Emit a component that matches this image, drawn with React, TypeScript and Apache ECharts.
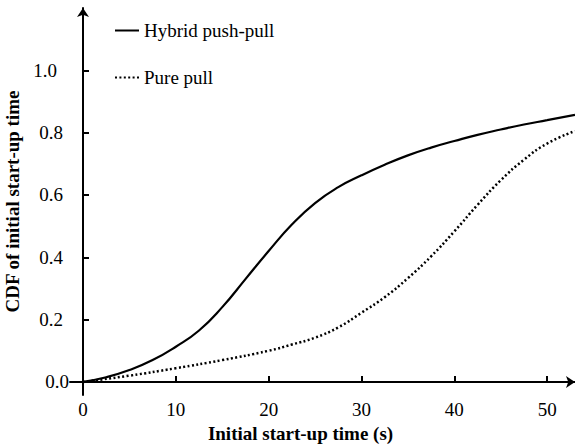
import React, { useEffect, useRef } from "react";
import * as echarts from "echarts";

const xTicks = [0, 10, 20, 30, 40, 50];
const yTicks = [0, 0.2, 0.4, 0.6, 0.8, 1.0];

const hybridX = [0, 2.5, 5, 7.5, 10, 12.5, 15, 17.5, 20, 22.5, 25, 27.5, 30, 32.5, 35, 37.5, 40, 42.5, 45, 47.5, 50, 53];
const hybridY = [0, 0.015, 0.038, 0.07, 0.113, 0.165, 0.24, 0.33, 0.42, 0.505, 0.574, 0.625, 0.663, 0.697, 0.727, 0.752, 0.773, 0.793, 0.81, 0.826, 0.84, 0.857];

const pullX = [0, 5, 10, 15, 20, 22.5, 25, 27.5, 30, 32.5, 35, 37.5, 40, 42.5, 45, 47.5, 50, 53];
const pullY = [0, 0.02, 0.044, 0.07, 0.1, 0.12, 0.142, 0.175, 0.222, 0.272, 0.333, 0.403, 0.483, 0.568, 0.647, 0.713, 0.765, 0.805];

const seriesNames = ["Hybrid push-pull", "Pure pull"];

const FONT = "Liberation Serif";

export default function App() {
  const ref = useRef<HTMLDivElement>(null);
  useEffect(() => {
    if (!ref.current) return;
    const chart = echarts.init(ref.current, null, { renderer: "svg" });
    const axisCommon = {
      axisLine: {
        onZero: true,
        symbol: ["none", "arrow"],
        symbolSize: [9, 9],
        lineStyle: { color: "#000", width: 2 },
      },
      axisTick: { show: true, inside: true, length: 6, lineStyle: { color: "#000", width: 2 } },
      splitLine: { show: false },
    };
    const labelRich = {
      a: { fontFamily: FONT, fontSize: 19, color: "#000", padding: [0, 0, 0, 0] },
      b: { fontFamily: FONT, fontSize: 19, color: "#000", padding: [0, 6, 0, 0] },
      c: { fontFamily: FONT, fontSize: 19, color: "#000", padding: [0, 12, 0, 0] },
    };
    chart.setOption({
      animation: false,
      backgroundColor: "#fff",
      textStyle: { fontFamily: FONT },
      grid: { left: 70, right: 0, top: 8, bottom: 51, containLabel: false, outerBoundsMode: "none" },
      legend: {
        orient: "vertical",
        left: 114,
        top: 21,
        padding: 0,
        itemWidth: 24,
        itemHeight: 14,
        itemGap: 28,
        itemStyle: { opacity: 0 },
        textStyle: { fontFamily: FONT, fontSize: 19, color: "#000" },
        data: seriesNames,
      },
      xAxis: {
        type: "value",
        min: -1.4,
        max: 53,
        ...axisCommon,
        axisTick: { ...axisCommon.axisTick, customValues: xTicks },
        axisLabel: {
          customValues: xTicks,
          margin: 5,
          fontFamily: FONT,
          fontSize: 19,
          color: "#000",
          formatter: (v: number) => String(v),
        },
        name: "Initial start-up time (s)",
        nameLocation: "middle",
        nameGap: 22,
        nameTextStyle: { fontFamily: FONT, fontSize: 19, fontWeight: "bold", color: "#000", padding: [0, 44, 0, 0] },
      },
      yAxis: {
        type: "value",
        min: -0.042,
        max: 1.2,
        ...axisCommon,
        axisTick: { ...axisCommon.axisTick, customValues: yTicks },
        axisLabel: {
          customValues: yTicks,
          margin: 1,
          fontFamily: FONT,
          fontSize: 19,
          color: "#000",
          rich: labelRich,
          formatter: (v: number) => {
            const s = v.toFixed(1);
            const k = v === 0 ? "a" : v >= 1 ? "c" : "b";
            return `{${k}|${s}}`;
          },
        },
        name: "CDF of initial start-up time",
        nameLocation: "middle",
        nameGap: 43,
        nameTextStyle: { fontFamily: FONT, fontSize: 19, fontWeight: "bold", color: "#000" },
      },
      series: [
        {
          name: seriesNames[0],
          type: "line",
          smooth: 0.5,
          showSymbol: false,
          symbol: "none",
          lineStyle: { color: "#000", width: 2.2, type: "solid" },
          itemStyle: { color: "#000" },
          data: hybridX.map((x, i) => [x, hybridY[i]]),
        },
        {
          name: seriesNames[1],
          type: "line",
          smooth: 0.5,
          showSymbol: false,
          symbol: "none",
          lineStyle: { color: "#000", width: 2.5, type: [2, 2.4] },
          itemStyle: { color: "#000" },
          data: pullX.map((x, i) => [x, pullY[i]]),
        },
      ],
    });
    return () => chart.dispose();
  }, []);
  return <div ref={ref} style={{ width: 575, height: 446, position: "absolute", left: 0, top: 0 }} />;
}
